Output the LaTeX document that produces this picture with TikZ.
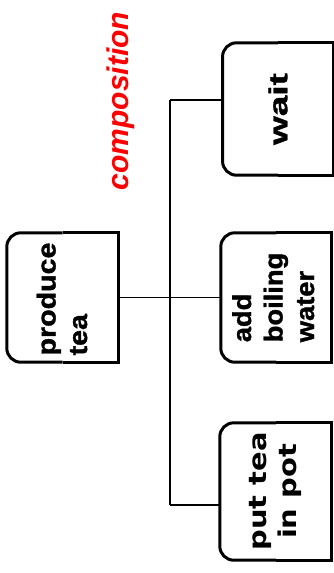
\documentclass[tikz,border=0pt]{standalone}
\usepackage{fontspec}
\setmainfont{Liberation Sans}
\newfontfamily\djv{DejaVu Sans}
\newfontfamily\lbf{Liberation Sans Bold}[FakeBold=1.2]
\usepackage{graphicx}
\newcommand\leftroundbox[1]{%
  \draw[boxline,rounded corners=14pt] (#1.north) -- (#1.north west) -- (#1.south west) -- (#1.south);
  \draw[boxline] (#1.north) -- (#1.north east) -- (#1.south east) -- (#1.south);}
\begin{document}
\begin{tikzpicture}[x=1pt,y=-1pt,
  boxline/.style={line width=3pt,black},
  conn/.style={line width=1.1pt,black},
  box/.style={rectangle,inner sep=0pt,minimum width=#1},
  lbl/.style={font=\lbf\fontsize{26}{31.5}\selectfont}]
\useasboundingbox (0,0) rectangle (333,573);
\node[box=111pt,minimum height=129pt,lbl] (P) at (62.5,297.5) {};
\node[lbl,inner sep=0pt] (Pt) at (65,299)
  {\rotatebox{90}{\scalebox{1.1}[1]{\begin{tabular}{@{}l@{}}produce\\tea\end{tabular}}}};
\node[box=110.5pt,minimum height=129pt,lbl] (A) at (276.25,297.5)
  {\rotatebox{90}{\scalebox{1.05}[1]{\begin{tabular}{@{}l@{}}add\\boiling\\water\end{tabular}}}};
\node[box=110.5pt,minimum height=132pt,font=\lbf\fontsize{26}{29}\selectfont] (W) at (278,109)
  {\rotatebox{90}{\scalebox{1.42}[1]{wait}}};
\node[box=111.5pt,minimum height=137pt,font=\djv\fontsize{24.5}{30}\selectfont\bfseries] (T) at (275.75,491.5)
  {\rotatebox{90}{\scalebox{1.18}[1]{\begin{tabular}{@{}c@{}}put tea\\in pot\end{tabular}}}};
\leftroundbox{P}
\leftroundbox{A}
\leftroundbox{W}
\leftroundbox{T}
\node[text=red,font=\fontsize{30}{36}\selectfont\bfseries\itshape,rotate=90] (comp) at (121,101) {composition};
\coordinate (jt) at (170,100);
\coordinate (jb) at (170,505);
\draw[conn] (P.east) -- (A.west);
\draw[conn] (jt) -- (jb);
\draw[conn] (jt) -- (W.west |- jt);
\draw[conn] (jb) -- (T.west |- jb);
\end{tikzpicture}
\end{document}
